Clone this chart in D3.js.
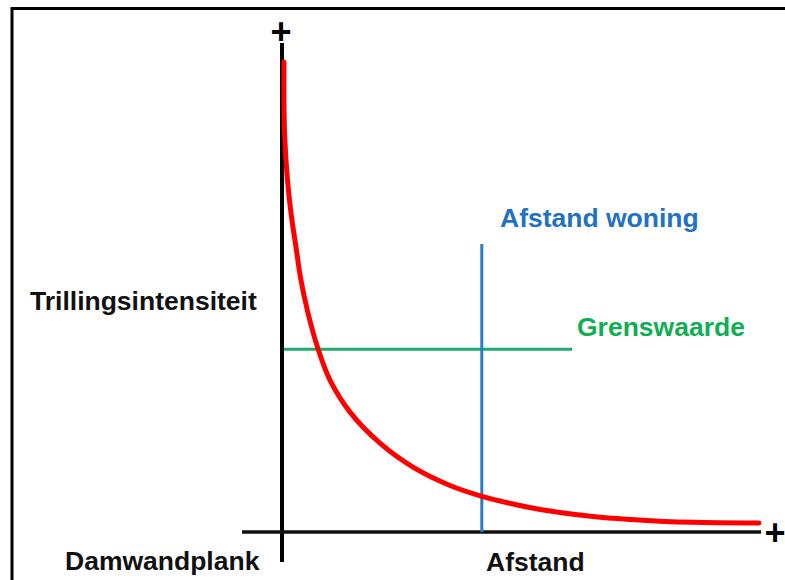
<!DOCTYPE html>
<html>
<head>
<meta charset="utf-8">
<script src="https://cdn.jsdelivr.net/npm/d3@7"></script>
<style>
  body { margin: 0; background: #fff; }
  text { font-family: "Liberation Sans", Arial, sans-serif; font-weight: bold; font-size: 26.5px; }
</style>
</head>
<body>
<div id="chart"></div>
<script>
// curve (arbitrary units 0-100)
var curveX = [0.42, 0.52, 1.15, 1.88, 2.93, 3.97, 5.44, 7.53, 10.04, 14.23, 20.5, 27.41, 35.15, 41.84, 51.26, 58.16, 65.06, 72.18, 79.08, 85.98, 99.79];
var curveY = [100, 85.5, 74.9, 67.9, 60.6, 53.6, 46.6, 39.0, 32.3, 25.5, 18.9, 13.8, 9.9, 7.6, 5.32, 4.15, 3.30, 2.70, 2.30, 2.06, 1.91];

var woningX = 41.8, woningTop = 61.3;        // Afstand woning
var grensY = 38.9, grensEnd = 60.7;          // Grenswaarde

var yLabel = "Trillingsintensiteit",
    xLabel = "Afstand",
    originLabel = "Damwandplank",
    woningLabel = "Afstand woning",
    grensLabel = "Grenswaarde";

var width = 785, height = 580;

var x = d3.scaleLinear().domain([0, 100]).range([282, 760]);
var y = d3.scaleLinear().domain([0, 100]).range([532, 62]);

var svg = d3.select("#chart").append("svg")
    .attr("width", width)
    .attr("height", height);

// frame (only top and left visible)
svg.append("rect")
    .attr("x", 12)
    .attr("y", 8.5)
    .attr("width", 800)
    .attr("height", 600)
    .attr("fill", "none")
    .attr("stroke", "#000")
    .attr("stroke-width", 3);

// axes
svg.append("line")
    .attr("x1", x(0)).attr("x2", x(0))
    .attr("y1", 43).attr("y2", 562)
    .attr("stroke", "#000")
    .attr("stroke-width", 4);

svg.append("line")
    .attr("x1", 242).attr("x2", 761)
    .attr("y1", y(0)).attr("y2", y(0))
    .attr("stroke", "#111")
    .attr("stroke-width", 3.5);

svg.append("text")
    .attr("x", 281).attr("y", 44)
    .attr("text-anchor", "middle")
    .style("font-size", "36px")
    .text("+");

svg.append("text")
    .attr("x", 775).attr("y", 545)
    .attr("text-anchor", "middle")
    .style("font-size", "36px")
    .text("+");

// grenswaarde
svg.append("line")
    .attr("x1", x(0.4)).attr("x2", x(grensEnd))
    .attr("y1", y(grensY)).attr("y2", y(grensY))
    .attr("stroke", "#1fab6e")
    .attr("stroke-width", 3);

// afstand woning
svg.append("line")
    .attr("x1", x(woningX)).attr("x2", x(woningX))
    .attr("y1", y(0)).attr("y2", y(woningTop))
    .attr("stroke", "#2a7dc4")
    .attr("stroke-width", 3);

// trillingscurve
var line = d3.line()
    .x(function(d) { return x(d[0]); })
    .y(function(d) { return y(d[1]); })
    .curve(d3.curveCatmullRom.alpha(0.5));

svg.append("path")
    .datum(d3.zip(curveX, curveY))
    .attr("d", line)
    .attr("fill", "none")
    .attr("stroke", "#ff0000")
    .attr("stroke-width", 5)
    .attr("stroke-linecap", "round");

// labels
svg.append("text")
    .attr("x", 30).attr("y", 310)
    .attr("fill", "#111")
    .text(yLabel);

svg.append("text")
    .attr("x", 65).attr("y", 570)
    .attr("fill", "#111")
    .text(originLabel);

svg.append("text")
    .attr("x", 486).attr("y", 571)
    .attr("fill", "#111")
    .text(xLabel);

svg.append("text")
    .attr("x", 500).attr("y", 227)
    .attr("fill", "#2272c3")
    .text(woningLabel);

svg.append("text")
    .attr("x", 577).attr("y", 336)
    .attr("fill", "#0fae52")
    .text(grensLabel);
</script>
</body>
</html>
